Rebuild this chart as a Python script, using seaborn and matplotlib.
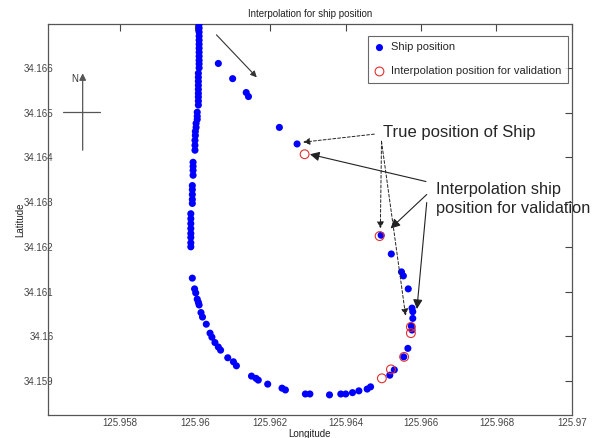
import matplotlib
matplotlib.use("Agg")
import matplotlib.pyplot as plt
import pandas as pd
import seaborn as sns

# ship track (longitude, latitude)
ship_lon = [
    125.96011, 125.96011, 125.96011, 125.96011, 125.96011, 125.96011,
    125.96011, 125.96011, 125.96011, 125.96011, 125.96011, 125.96011,
    125.96009, 125.96009, 125.96009, 125.96009, 125.96009, 125.96009,
    125.96009, 125.96009, 125.96009,
    125.96006, 125.96006, 125.96006,
    125.96003, 125.96003, 125.96001, 125.96001,
    125.96000, 125.96000, 125.96000,
    125.95995, 125.95995, 125.95995, 125.95995,
    125.95993, 125.95993, 125.95993, 125.95993, 125.95993,
    125.95989, 125.95989, 125.95989, 125.95989, 125.95989, 125.95989,
    125.95989, 125.95989,
    125.95993, 125.95999, 125.96002, 125.96006, 125.96009, 125.96011,
    125.96016, 125.96020, 125.96030, 125.96040, 125.96045, 125.96053,
    125.96062, 125.96068, 125.96087, 125.96102, 125.96110, 125.96150,
    125.96162, 125.96168, 125.96193, 125.96231, 125.96240, 125.96293,
    125.96305, 125.96357, 125.96387, 125.96400, 125.96418, 125.96435,
    125.96457, 125.96466, 125.96517, 125.96529, 125.96554, 125.96565,
    125.96576, 125.96574, 125.96578, 125.96578, 125.96576, 125.96566,
    125.96553, 125.96548, 125.96521, 125.96494,
    125.96271, 125.96224, 125.96142, 125.96136, 125.96100, 125.96062,
]
ship_lat = [
    34.16698, 34.16689, 34.16680, 34.16671, 34.16662, 34.16653,
    34.16644, 34.16635, 34.16626, 34.16617, 34.16609, 34.16600,
    34.16588, 34.16579, 34.16570, 34.16561, 34.16552, 34.16543,
    34.16535, 34.16526, 34.16517,
    34.16501, 34.16492, 34.16485,
    34.16476, 34.16467, 34.16458, 34.16449,
    34.16438, 34.16427, 34.16416,
    34.16389, 34.16380, 34.16371, 34.16360,
    34.16337, 34.16328, 34.16317, 34.16306, 34.16297,
    34.16274, 34.16263, 34.16252, 34.16241, 34.16230, 34.16221,
    34.16209, 34.16200,
    34.16130, 34.16106, 34.16097, 34.16083, 34.16076, 34.16070,
    34.16053, 34.16043, 34.16027, 34.16007, 34.15998, 34.15986,
    34.15976, 34.15969, 34.15952, 34.15943, 34.15934, 34.15911,
    34.15906, 34.15902, 34.15893, 34.15884, 34.15880, 34.15871,
    34.15871, 34.15869, 34.15871, 34.15871, 34.15874, 34.15878,
    34.15882, 34.15887, 34.15913, 34.15925, 34.15954, 34.15973,
    34.16014, 34.16023, 34.16040, 34.16055, 34.16063, 34.16106,
    34.16135, 34.16144, 34.16184, 34.16226,
    34.16430, 34.16467, 34.16536, 34.16545, 34.16576, 34.16610,
]

# interpolated positions used for validation
interp_lon = [125.96291, 125.96490, 125.96573, 125.96573, 125.96555, 125.96520, 125.96496]
interp_lat = [34.16407, 34.16224, 34.16021, 34.16007, 34.15954, 34.15926, 34.15906]

x_ticks = [125.958, 125.96, 125.962, 125.964, 125.966, 125.968, 125.97]
x_labels = ["125.958", "125.96", "125.962", "125.964", "125.966", "125.968", "125.97"]
y_ticks = [34.159, 34.16, 34.161, 34.162, 34.163, 34.164, 34.165, 34.166]
y_labels = ["34.159", "34.16", "34.161", "34.162", "34.163", "34.164", "34.165", "34.166"]

ship = pd.DataFrame({"Longitude": ship_lon, "Latitude": ship_lat})
interp = pd.DataFrame({"Longitude": interp_lon, "Latitude": interp_lat})

sns.set_style("white")
plt.rcParams["font.family"] = ["Liberation Sans", "DejaVu Sans"]

fig = plt.figure(figsize=(6, 4.38), dpi=100)
ax = fig.add_axes([0.08, 0.0525, 0.873, 0.8925])

sns.scatterplot(data=ship, x="Longitude", y="Latitude", ax=ax, color="#0000ff",
                s=26, edgecolor="none", label="Ship position", zorder=3)
sns.scatterplot(data=interp, x="Longitude", y="Latitude", ax=ax, marker="o",
                s=40, facecolor="none", edgecolor="#e03030", linewidth=0.8,
                label="Interpolation position for validation", zorder=4)

ax.set_xlim(125.9561, 125.970)
ax.set_ylim(34.15824, 34.16698)
ax.set_xticks(x_ticks)
ax.set_xticklabels(x_labels)
ax.set_yticks(y_ticks)
ax.set_yticklabels(y_labels)
ax.tick_params(direction="in", length=5, width=0.8, colors="#444444",
               labelsize=7, top=True, right=True, pad=2)
ax.tick_params(axis="y", pad=-4)
for sp in ax.spines.values():
    sp.set_color("#555555")
    sp.set_linewidth(0.9)

ax.set_title("Interpolation for ship position", fontsize=7, pad=5, color="#222222")
ax.set_xlabel("Longitude", fontsize=7, labelpad=1, color="#222222")
ax.set_ylabel("Latitude", fontsize=7, labelpad=-1, color="#222222")

leg = ax.legend(loc="upper right", fontsize=8, frameon=True, fancybox=False,
                borderpad=0.6, labelspacing=1.25, handletextpad=0.6,
                handlelength=0.8, borderaxespad=0,
                bbox_to_anchor=(0.992, 0.97))
leg.get_frame().set_edgecolor("#444444")
leg.get_frame().set_linewidth(0.8)

# north compass
ax.annotate("", xy=(125.95702, 34.16588), xytext=(125.95702, 34.16416),
            arrowprops=dict(arrowstyle="-|>", color="#555555", lw=0.9,
                            mutation_scale=10, shrinkA=0, shrinkB=0))
ax.plot([125.95651, 125.95747], [34.16501, 34.16501], color="#555555", lw=0.9)
ax.text(125.95682, 34.16576, "N", fontsize=7, ha="center", va="center", color="#333333")

# direction of travel
ax.annotate("", xy=(125.96164, 34.16579), xytext=(125.96057, 34.16674),
            arrowprops=dict(arrowstyle="-|>", color="#333333", lw=0.8,
                            mutation_scale=9, shrinkA=0, shrinkB=0))

# labels with pointers
ax.text(125.96500, 34.16456, "True position of Ship", fontsize=12, va="center", ha="left")
ax.text(125.96640, 34.16307, "Interpolation ship\nposition for validation", fontsize=11.8,
        va="center", ha="left", linespacing=1.4)

dashed = dict(arrowstyle="-|>", color="#222222", lw=0.7, linestyle=(0, (3, 2)),
              mutation_scale=10, shrinkA=0, shrinkB=0)
ax.annotate("", xy=(125.96287, 34.16434), xytext=(125.96476, 34.16452), arrowprops=dashed)
ax.annotate("", xy=(125.96492, 34.16241), xytext=(125.96495, 34.16436), arrowprops=dashed)
ax.annotate("", xy=(125.96559, 34.16046), xytext=(125.96495, 34.16436), arrowprops=dashed)

solid = dict(arrowstyle="-|>", color="#222222", lw=0.8, mutation_scale=14,
             shrinkA=0, shrinkB=0)
ax.annotate("", xy=(125.96305, 34.16407), xytext=(125.96613, 34.16346), arrowprops=solid)
ax.annotate("", xy=(125.96519, 34.16241), xytext=(125.96615, 34.16317), arrowprops=solid)
ax.annotate("", xy=(125.96589, 34.16061), xytext=(125.96615, 34.16299), arrowprops=solid)

fig.savefig("out.png", dpi=100)
